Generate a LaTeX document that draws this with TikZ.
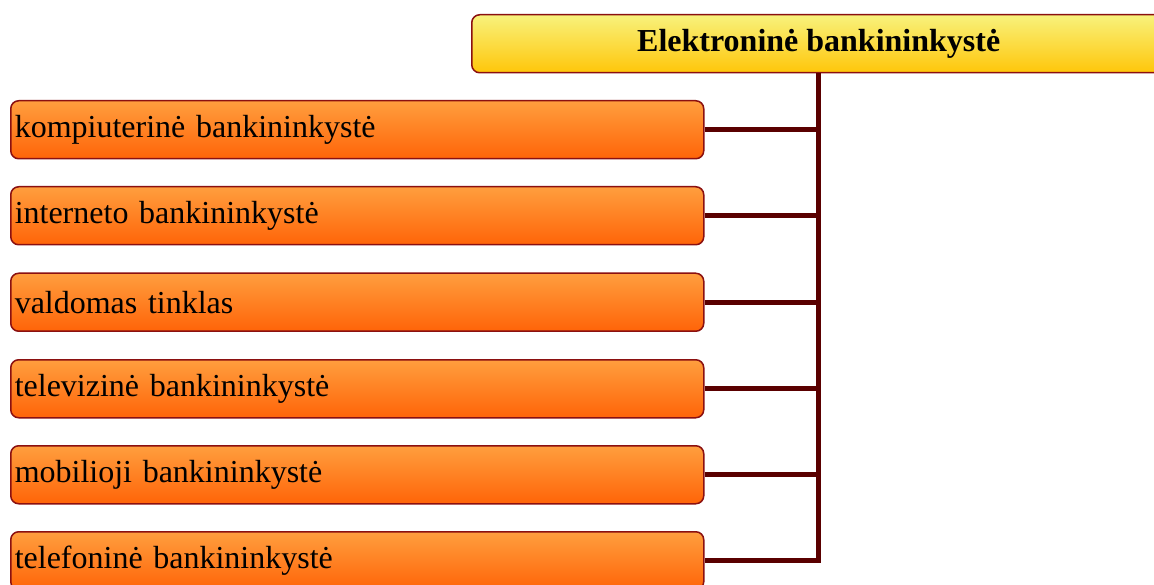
\documentclass[tikz,border=0pt]{standalone}
\usepackage{fontspec}
\setmainfont{Liberation Serif}
\definecolor{edgered}{HTML}{8B1010}
\definecolor{trunk}{HTML}{5A0000}
\definecolor{orTop}{HTML}{FF9E3E}
\definecolor{orBot}{HTML}{FF6408}
\definecolor{yeTop}{HTML}{F8F27C}
\definecolor{yeBot}{HTML}{FFC60A}
\begin{document}
\begin{tikzpicture}[x=1pt,y=1pt,
  leafbox/.style={draw=edgered, line width=1.5pt, rounded corners=8pt,
    top color=orTop, bottom color=orBot, minimum height=58pt,
    text width=685pt, inner xsep=4pt, inner ysep=0pt, align=left,
    anchor=north west, font=\fontsize{32}{38}\selectfont},
  titlebox/.style={draw=edgered, line width=1.5pt, rounded corners=8pt,
    top color=yeTop, bottom color=yeBot, minimum height=58pt,
    minimum width=694pt, inner sep=0pt, anchor=north west,
    font=\fontsize{32}{38}\selectfont\bfseries},
  link/.style={draw=trunk, line width=5pt}
]
\useasboundingbox (0,0) rectangle (1154,-585);
\clip (0,0) rectangle (1154,-585);
\node[titlebox] (t) at (471,-14) {Elektroninė bankininkystė};
\node[leafbox] (b1) at (10,-100) {kompiuterinė bankininkystė};
\node[leafbox] (b2) at (10,-186) {interneto bankininkystė};
\node[leafbox] (b3) at (10,-272.5) {valdomas tinklas};
\node[leafbox] (b4) at (10,-359) {televizinė bankininkystė};
\node[leafbox] (b5) at (10,-445) {mobilioji bankininkystė};
\node[leafbox] (b6) at (10,-531) {telefoninė bankininkystė};
\coordinate (bend) at (t.south |- b6.east);
\draw[link] (t.south) -- (bend) -- (b6.east);
\foreach \i in {1,...,5}{
  \draw[link] (b\i.east) -- (t.south |- b\i.east);
}
\end{tikzpicture}
\end{document}
